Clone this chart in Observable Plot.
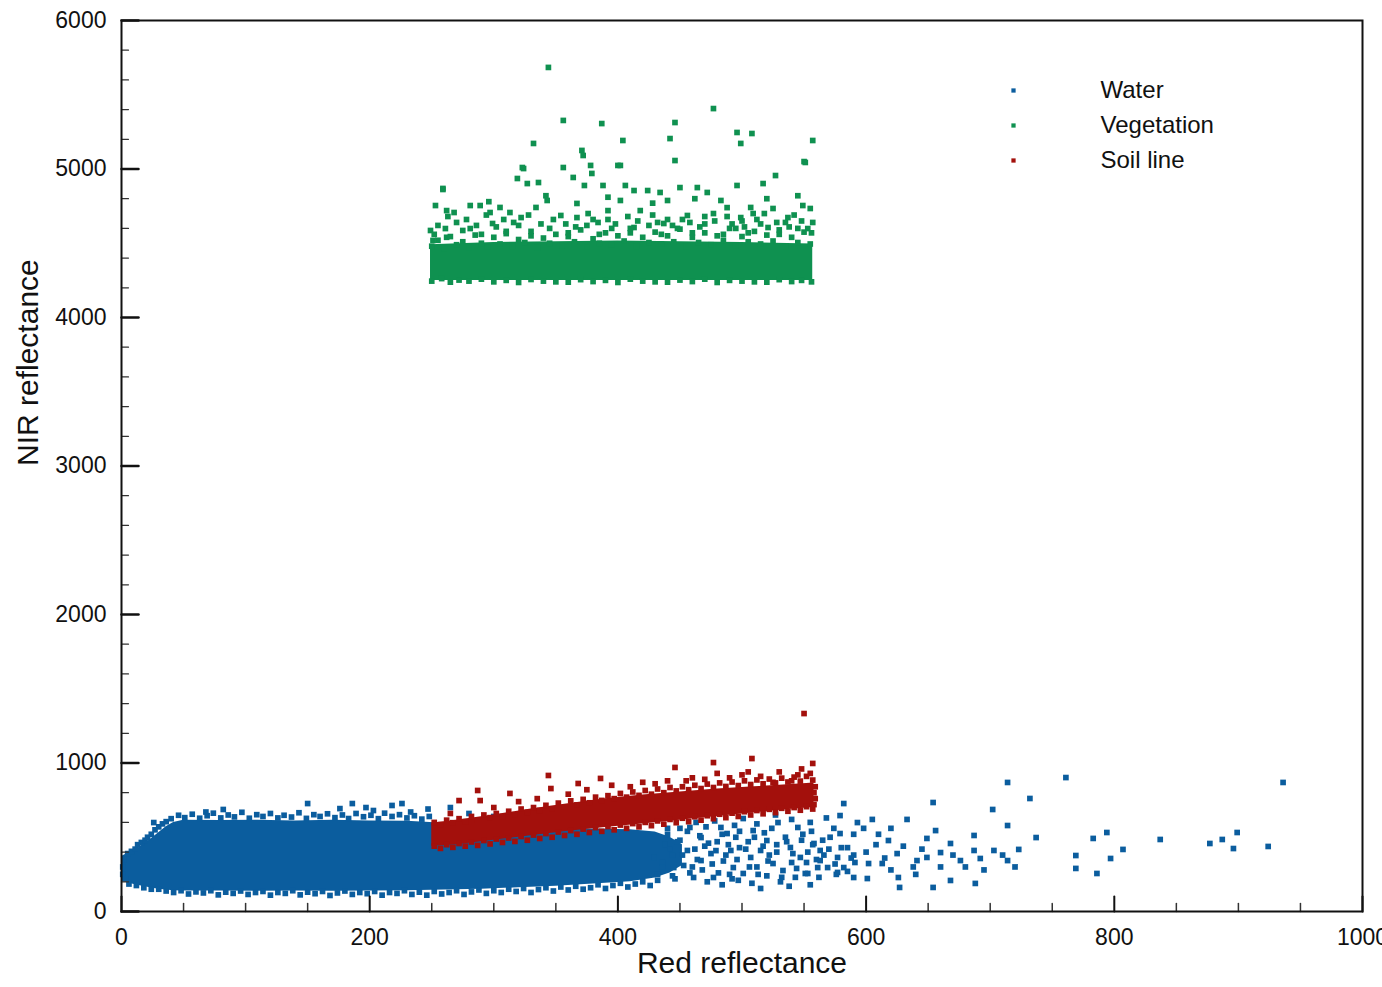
<!DOCTYPE html>
<html>
<head>
<meta charset="utf-8">
<script src="https://cdn.jsdelivr.net/npm/d3@7"></script>
<script src="https://cdn.jsdelivr.net/npm/@observablehq/plot@0.6"></script>
<style>
  body { margin: 0; background: #fff; }
  #chart { width: 1382px; height: 987px; overflow: hidden; }
</style>
</head>
<body>
<div id="chart"></div>
<script>
// ---------- labels, ticks, colours ----------
const seriesNames = ["Water", "Vegetation", "Soil line"];
const seriesColors = ["#0b5d9e", "#0f9150", "#a3100c"];
const xTitle = "Red reflectance";
const yTitle = "NIR reflectance";
const xMajorTicks = [0, 200, 400, 600, 800, 1000];
const xMinorTicks = [50, 100, 150, 250, 300, 350, 450, 500, 550, 650, 700, 750, 850, 900, 950];
const yMajorTicks = [0, 1000, 2000, 3000, 4000, 5000, 6000];
const yMinorTicks = [200, 400, 600, 800, 1200, 1400, 1600, 1800, 2200, 2400, 2600, 2800,
  3200, 3400, 3600, 3800, 4200, 4400, 4600, 4800, 5200, 5400, 5600, 5800];

// ---------- dense cores (envelopes) ----------
const waterCoreX  = [0, 6, 12, 18, 24, 30, 36, 42, 50, 80, 110, 140, 170, 200, 230, 260, 290, 320, 350, 380, 410, 430, 442, 452];
const waterCoreLo = [205, 190, 178, 168, 158, 150, 145, 140, 138, 138, 136, 138, 136, 138, 140, 145, 150, 160, 170, 185, 200, 225, 260, 310];
const waterCoreHi = [370, 395, 420, 455, 490, 530, 570, 600, 615, 612, 615, 610, 615, 610, 608, 595, 580, 565, 560, 555, 550, 535, 500, 450];

const soilCoreX  = [250, 270, 300, 330, 360, 390, 420, 450, 480, 510, 540, 558];
const soilCoreLo = [440, 450, 480, 510, 540, 565, 590, 615, 640, 665, 688, 700];
const soilCoreHi = [595, 615, 650, 690, 725, 760, 785, 805, 825, 840, 855, 865];

const vegCoreX  = [249, 300, 350, 400, 450, 500, 557];
const vegCoreLo = [4250, 4250, 4250, 4250, 4250, 4250, 4250];
const vegCoreHi = [4490, 4505, 4510, 4515, 4510, 4505, 4495];

// ---------- individual points ----------
const waterPts = [
  // left edge
  [1,250],[1,300],[2,350],[3,220],[5,390],[8,405],[11,420],[13,450],[16,465],[19,480],[21,500],[24,520],[27,550],
  [30,570],[33,590],[36,605],
  // ragged top edge
  [40,625],[46,648],[51,632],[57,655],[63,628],[69,645],[74,662],[80,630],[86,650],[91,637],[97,668],[103,628],
  [109,652],[114,640],[120,660],[126,630],[131,648],[137,636],[143,665],[149,627],[155,652],[160,640],[166,658],
  [172,632],[178,650],[183,626],[189,660],[195,638],[201,648],[207,625],[212,662],[218,640],[224,652],[230,630],
  [236,645],[242,622],[248,640],
  // above the block
  [26,599],[68,670],[82,687],[150,727],[176,693],[186,727],[197,700],[203,680],[218,714],[226,727],
  [233,670],[247,690],[265,700],[280,660],[300,640],
  // ragged bottom edge
  [6,185],[12,175],[18,160],[24,150],[30,150],[36,138],[42,128],[48,140],[54,118],[60,132],[66,125],[72,140],
  [78,112],[84,130],[90,122],[96,138],[102,115],[108,128],[114,135],[120,110],[126,128],[132,122],[138,140],
  [144,112],[150,130],[156,120],[162,135],[168,108],[174,125],[180,138],[186,115],[192,128],[198,120],[204,135],
  [210,110],[216,128],[222,122],[228,140],[234,115],[240,130],[246,110],[252,135],[258,118],[264,128],[270,140],
  [276,115],[282,132],[288,145],[294,122],[300,140],[306,128],[312,150],[318,135],[324,155],[330,128],[336,148],
  [342,160],[348,138],[354,165],[360,145],[366,170],[372,150],[378,160],[384,180],[390,155],[396,175],[402,190],
  [408,165],[414,185],[420,200],[426,175],[432,210],
  // dense-but-speckled block right of the core
  [432,250],[436,330],[438,450],[440,560],[444,380],[446,220],[450,480],[453,310],[456,540],[458,260],[462,420],
  [464,350],[466,510],[468,280],[471,570],[473,460],[476,320],[479,410],[481,260],[484,520],[487,380],[489,450],
  [492,220],[496,350],[498,540],[503,420],[506,300],[510,500],[513,250],[517,440],[521,340],[524,560],[528,400],
  [532,230],[536,470],[541,390],[544,290],[549,520],[552,330],[557,450],[562,230],[566,380],[571,500],[575,320],
  [580,430],[585,270],[590,380],
  [582,727],[579,646],[501,626],[529,599],[545,566],[509,545],[488,525],[467,498],[520,478],[558,458],[539,431],
  [577,364],[569,296],[551,256],[515,155],[493,296],[467,343],[477,229],[456,411],[445,296],[429,364],[525,323],
  [507,364],[547,364],[563,411],[533,276],[491,411],[458,566],[483,566],[515,411],[501,256],[461,229],[561,296],
  [582,296],[579,525],
  [440,520],[448,470],[452,380],[460,300],[470,440],[475,390],[480,470],[485,340],[490,250],[495,500],[498,430],
  [505,470],[512,300],[518,530],[522,380],[528,450],[535,500],[540,330],[543,230],[548,480],[553,400],[556,540],
  [560,350],[565,480],[570,420],[574,560],[576,250],[585,430],[588,360],[590,520],[472,200],[484,180],[497,210],
  [508,190],[520,240],[531,200],[538,170],[555,180],[444,240],[436,300],[442,420],[450,560],[463,600],[478,610],
  [494,580],[512,590],[527,650],[540,620],[555,600],[568,630],
  // sparse right part
  [714,869],[761,902],[732,761],[936,869],[654,734],[702,687],[714,579],[737,498],[783,492],[794,532],[837,485],
  [877,458],[887,485],[899,532],[896,424],[924,438],[807,418],[769,377],[797,357],[769,290],[786,256],[723,418],
  [714,343],[687,512],[668,458],[656,545],[649,492],[633,620],[605,620],[593,599],[618,478],[625,390],[626,229],
  [627,162],[654,162],[668,209],[688,189],[641,343],[649,364],[660,397],[676,343],[692,357],[703,411],[687,411],
  [602,323],[591,330],[601,222],[590,229],[577,263],[563,343],[553,256],[613,323],
  [600,400],[608,450],[615,360],[620,280],[630,440],[638,300],[645,420],[660,300],[670,380],[680,300],[695,280],
  [710,380],[720,300],[610,520],[598,560],[620,560],[640,250]
];

const soilPts = [
  // outliers
  [550,1333],[477,1003],[508,1030],[557,997],[446,970],[344,916],[346,828],[287,815],[272,747],[289,747],[313,795],
  [386,896],[368,862],[420,870],[460,900],[500,920],[530,940],[548,960],[555,930],[395,850],[440,880],[360,790],
  [430,860],[470,890],[490,900],[515,910],[525,870],[545,920],[505,940],[480,930],[410,840],[375,820],[335,760],
  [300,700],[265,660],[320,740],[455,880],[540,880],
  // ragged top edge
  [252,600],[257,585],[262,615],[267,598],[272,625],[277,605],[282,640],[287,615],[292,650],[297,632],[302,660],
  [307,640],[312,675],[317,652],[322,690],[327,668],[332,700],[337,680],[342,715],[347,692],[352,730],[357,705],
  [362,745],[367,718],[372,755],[377,732],[382,770],[387,748],[392,780],[397,760],[402,795],[407,770],[412,805],
  [417,782],[422,815],[427,790],[432,825],[437,800],[442,835],[447,812],[452,840],[457,820],[462,850],[467,828],
  [472,858],[477,835],[482,866],[487,842],[492,872],[497,848],[502,880],[507,855],[512,886],[517,860],[522,892],
  [527,866],[532,898],[537,872],[542,905],[547,878],[552,910],[557,885],
  // ragged bottom edge
  [252,440],[257,425],[262,450],[267,432],[272,458],[277,440],[282,468],[287,445],[292,478],[297,455],[302,488],
  [307,465],[312,495],[317,472],[322,505],[327,480],[332,515],[337,492],[342,525],[347,500],[352,535],[357,512],
  [362,545],[367,520],[372,555],[377,532],[382,565],[387,540],[392,572],[397,550],[402,582],[407,560],[412,592],
  [417,570],[422,600],[427,578],[432,610],[437,588],[442,620],[447,598],[452,628],[457,605],[462,638],[467,615],
  [472,645],[477,625],[482,655],[487,632],[492,662],[497,640],[502,672],[507,650],[512,680],[517,658],[522,688],
  [527,666],[532,695],[537,675],[542,700],[547,682],[552,706],[557,690],
  // right edge
  [558,720],[559,760],[558,800],[559,840]
];

const vegPts = [
  // high outliers
  [344,5684],[356,5327],[387,5306],[446,5313],[477,5407],[496,5246],[508,5239],[557,5192],[499,5172],[404,5192],
  [442,5205],[332,5172],[446,5057],[550,5050],[371,5125],[324,5003],[259,4869],[400,5024],[527,4956],
  // loose upper layer
  [259,4862],[249,4586],[251,4519],[253,4754],[268,4707],[281,4754],[289,4754],[297,4707],[305,4741],[313,4707],
  [322,4673],[323,5010],[319,4936],[327,4902],[336,4909],[334,4741],[343,4788],[356,5010],[364,4943],[372,5091],
  [379,4970],[373,4889],[378,5024],[388,4889],[402,5024],[406,4889],[413,4855],[424,4855],[434,4842],[450,4875],
  [464,4875],[472,4842],[496,4889],[517,4902],[551,5044],[549,4754],[555,4734],[525,4734],[507,4741],[483,4788],
  [440,4788],[402,4788],[367,4768],[354,4687],[367,4673],[392,4720],[418,4720],[456,4687],[477,4700],[499,4673],
  [537,4673],[553,4599],[521,4606],[509,4700],[281,4599],[299,4633],[275,4586],[261,4599],[413,4606],[437,4633],
  [252,4560],[262,4540],[290,4560],[310,4580],[330,4550],[345,4600],[360,4570],[375,4620],[385,4560],[395,4600],
  [410,4570],[425,4620],[435,4560],[448,4600],[460,4570],[470,4630],[485,4560],[495,4600],[505,4570],[515,4630],
  [530,4560],[545,4600],[556,4570],[320,4620],[270,4640],[440,4660],[470,4680],[380,4660],[500,4650],[535,4640],
  [255,4620],[263,4680],[278,4660],[286,4620],[294,4690],[302,4610],[308,4660],[316,4640],[328,4690],[338,4630],
  [348,4660],[358,4630],[366,4610],[376,4700],[384,4640],[392,4660],[398,4630],[408,4680],[416,4650],[428,4690],
  [432,4640],[444,4620],[452,4660],[458,4640],[466,4610],[478,4650],[488,4680],[492,4630],[502,4610],[512,4660],
  [518,4700],[528,4640],[538,4610],[542,4690],[548,4650],[557,4640],[262,4720],[296,4780],[342,4820],[392,4810],
  [428,4770],[462,4800],[488,4740],[520,4800],[545,4820],
  // ragged top of the dense layer
  [250,4480],[255,4520],[260,4465],[265,4545],[270,4490],[275,4510],[280,4470],[285,4555],[290,4500],[295,4475],
  [300,4540],[305,4495],[310,4565],[315,4480],[320,4525],[325,4505],[330,4580],[335,4470],[340,4535],[345,4500],
  [350,4560],[355,4485],[360,4545],[365,4510],[370,4590],[375,4475],[380,4530],[385,4500],[390,4570],[395,4490],
  [400,4550],[405,4515],[410,4600],[415,4480],[420,4540],[425,4505],[430,4575],[435,4495],[440,4550],[445,4510],
  [450,4595],[455,4480],[460,4540],[465,4505],[470,4570],[475,4490],[480,4550],[485,4520],[490,4600],[495,4485],
  [500,4545],[505,4510],[510,4580],[515,4495],[520,4555],[525,4515],[530,4590],[535,4480],[540,4540],[545,4505],
  [550,4575],[555,4495],
  // bottom edge
  [250,4245],[258,4262],[265,4238],[272,4252],[280,4245],[290,4258],[300,4240],[310,4250],[320,4236],[330,4256],
  [340,4245],[350,4240],[360,4238],[370,4255],[380,4242],[390,4250],[400,4236],[410,4258],[420,4245],[430,4240],
  [440,4238],[450,4252],[460,4242],[470,4258],[480,4236],[490,4250],[500,4245],[510,4240],[520,4238],[530,4255],
  [540,4242],[548,4250],[556,4240]
];

// ---------- build tables ----------
const core = (xs, lo, hi) => xs.map((x, i) => ({x, lo: lo[i], hi: hi[i]}));
const pts = (arr) => arr.map(([x, y]) => ({x, y}));

const tickUp = {draw(ctx, l) { ctx.moveTo(0, 0); ctx.lineTo(0, -l); }};
const font = "'Liberation Sans', Arial, Helvetica, sans-serif";

const legendMarks = seriesNames.flatMap((name, i) => [
  Plot.dot([name], {frameAnchor: "top-left", dx: 892, dy: 70 + 35 * i, symbol: "square", r: 2.4, fill: seriesColors[i]}),
  Plot.text([name], {frameAnchor: "top-left", dx: 979, dy: 70 + 35 * i, text: d => d, textAnchor: "start",
    lineAnchor: "middle", fontSize: 24, fill: "#111"})
]);

const dotR = 3.2;

const chart = Plot.plot({
  width: 1382,
  height: 987,
  marginLeft: 121,
  marginRight: 20,
  marginTop: 20,
  marginBottom: 76,
  style: {fontFamily: font, fontSize: "23px", color: "#111", background: "#fff"},
  x: {domain: [0, 1000]},
  y: {domain: [0, 6000]},
  marks: [
    // water
    Plot.areaY(core(waterCoreX, waterCoreLo, waterCoreHi), {x: "x", y1: "lo", y2: "hi", fill: seriesColors[0]}),
    Plot.dot(pts(waterPts), {x: "x", y: "y", symbol: "square", r: dotR, fill: seriesColors[0]}),
    // soil line
    Plot.areaY(core(soilCoreX, soilCoreLo, soilCoreHi), {x: "x", y1: "lo", y2: "hi", fill: seriesColors[2]}),
    Plot.dot(pts(soilPts), {x: "x", y: "y", symbol: "square", r: dotR, fill: seriesColors[2]}),
    // vegetation
    Plot.areaY(core(vegCoreX, vegCoreLo, vegCoreHi), {x: "x", y1: "lo", y2: "hi", fill: seriesColors[1]}),
    Plot.dot(pts(vegPts), {x: "x", y: "y", symbol: "square", r: dotR, fill: seriesColors[1]}),
    // inward ticks
    Plot.vector(xMajorTicks, {x: d => d, frameAnchor: "bottom", length: 15, anchor: "start", shape: tickUp, stroke: "#111", strokeWidth: 2}),
    Plot.vector(xMinorTicks, {x: d => d, frameAnchor: "bottom", length: 8, anchor: "start", shape: tickUp, stroke: "#333", strokeWidth: 1.5}),
    Plot.vector(yMajorTicks, {y: d => d, frameAnchor: "left", length: 17, rotate: 90, anchor: "start", shape: tickUp, stroke: "#111", strokeWidth: 2.5}),
    Plot.vector(yMinorTicks, {y: d => d, frameAnchor: "left", length: 7, rotate: 90, anchor: "start", shape: tickUp, stroke: "#333", strokeWidth: 1.2}),
    // tick labels
    Plot.axisX({ticks: xMajorTicks, tickSize: 0, tickPadding: 17, tickFormat: d => String(d), fontSize: 23, label: null}),
    Plot.axisY({ticks: yMajorTicks, tickSize: 0, tickPadding: 15, tickFormat: d => String(d), fontSize: 23, label: null}),
    // axis titles
    Plot.text([xTitle], {frameAnchor: "bottom", dy: 61, text: d => d, fontSize: 30, fill: "#111"}),
    Plot.text([yTitle], {frameAnchor: "left", dx: -93, rotate: -90, text: d => d, fontSize: 30, fill: "#111"}),
    // frame
    Plot.frame({stroke: "#111", strokeWidth: 2}),
    ...legendMarks
  ]
});

document.getElementById("chart").appendChild(chart);
</script>
</body>
</html>
